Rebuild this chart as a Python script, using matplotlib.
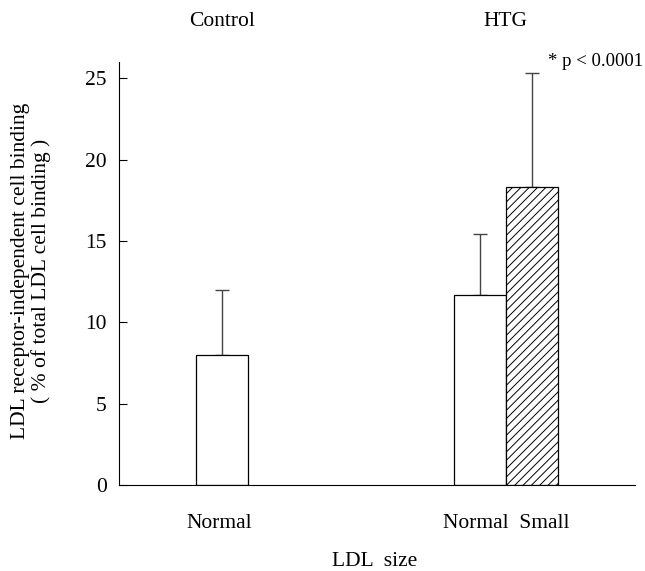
import numpy as np
import matplotlib
matplotlib.use('Agg')
import matplotlib.pyplot as plt

# values
groups = ['Control', 'HTG']
bar_labels = ['Normal', 'Normal  Small']
bar_pos = [2.0, 7.0, 8.0]
means = [8.0, 11.7, 18.3]
sd_upper = [4.0, 3.7, 7.0]
hatches = ['', '', '////']
y_ticks = [0, 5, 10, 15, 20, 25]

plt.rcParams['font.family'] = ['Liberation Serif', 'DejaVu Serif']
plt.rcParams['hatch.linewidth'] = 0.7

W, H = 645, 571
fig = plt.figure(figsize=(W / 100, H / 100), dpi=100)
ax = fig.add_axes([119 / W, 1 - 485 / H, 516 / W, (485 - 62) / H])

for x, m, e, h in zip(bar_pos, means, sd_upper, hatches):
    ax.bar(x, m, width=1.0, color='white', edgecolor='black', linewidth=0.9, hatch=h, zorder=2)
    ax.errorbar(x, m, yerr=[[0], [e]], fmt='none', ecolor='#444444', elinewidth=1.0,
                capsize=5, capthick=1.0, zorder=1)

ax.set_xlim(0, 10)
ax.set_ylim(0, 26)
ax.set_yticks(y_ticks)
ax.tick_params(axis='y', direction='in', length=6, labelsize=15.5, pad=9)
ax.tick_params(axis='x', length=0, labelsize=15.5, pad=21)
ax.set_xticks([bar_pos[0] - 0.05, (bar_pos[1] + bar_pos[2]) / 2])
ax.set_xticklabels(bar_labels)

ax.spines['top'].set_visible(False)
ax.spines['right'].set_visible(False)
ax.spines['left'].set_bounds(0, 26)

fig.text(31 / W, 1 - 271 / H,
         'LDL receptor-independent cell binding\n( % of total LDL cell binding )',
         rotation=90, ha='center', va='center', fontsize=15.5, linespacing=1.1)
fig.text(375 / W, 1 - 561 / H, 'LDL  size', ha='center', va='center', fontsize=15.5)

# group headers above the plot
fig.text(222 / W, 1 - 22 / H, groups[0], ha='center', va='center', fontsize=15.5)
fig.text(505 / W, 1 - 22 / H, groups[1], ha='center', va='center', fontsize=15.5)
fig.text(548 / W, 1 - 62 / H, '* p < 0.0001', ha='left', va='center', fontsize=13.5)

fig.savefig('out.png', dpi=100)
